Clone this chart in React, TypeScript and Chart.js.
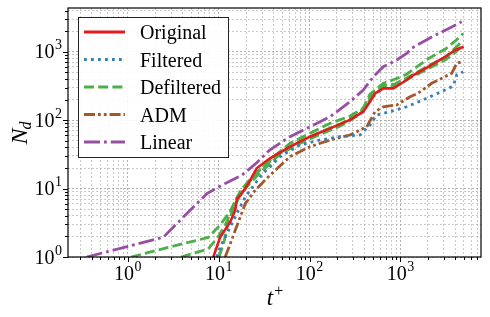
import React, { useEffect, useRef } from 'react';
import { Chart, registerables } from 'chart.js';
Chart.register(...registerables);

// ---- axis ranges & tick labels ----
const xMin = 0.22;
const xMax = 7700;
const yMin = 1;
const yMax = 4365;
const xTickValues = [1, 10, 100, 1000];
const xTickExponents = ['0', '1', '2', '3'];
const yTickValues = [1, 10, 100, 1000];
const yTickExponents = ['0', '1', '2', '3'];

// ---- series ----
const originalX = [8.5, 10.4, 13.4, 15.2, 15.9, 18.0, 21.3, 26.2, 36.7, 61, 101, 168, 279, 390, 462, 525, 648, 834, 1172, 1342, 2047, 3124, 4025, 4963];
const originalY = [0.9, 1.95, 3.25, 4.8, 7.1, 8.5, 11.9, 19.8, 27.7, 41, 57.4, 76, 101, 133, 186, 247, 292, 292, 387, 443, 605, 847, 1061, 1186];

const filteredX = [9.55, 10.4, 11.8, 13.4, 16.5, 19.6, 25.2, 31.1, 38.5, 47.3, 78.5, 130, 216, 359, 462, 548, 767, 1172, 1862, 3090, 3818, 4160, 4900];
const filteredY = [1, 1.4, 1.95, 2.75, 4.8, 7.5, 11.9, 17, 22, 29.3, 43.4, 51.3, 57.4, 60.7, 85, 119, 133, 157, 204, 276, 316, 458, 511];

const defilteredAX = [1.09, 2.92, 7.66, 10.4, 13.4, 16.4, 21.1, 28.6, 40, 61.3, 102, 169, 279, 390, 462, 648, 879, 1172, 2000, 3124, 4025, 4900];
const defilteredAY = [1, 1.40, 1.93, 2.94, 4.71, 7.8, 12.1, 19, 29, 46, 65, 90, 115, 150, 240, 346, 400, 470, 785, 1099, 1439, 1850];
const defilteredBX = [3.86, 7.66, 9.87, 12.1, 14.4, 17.3, 22.2, 30, 47.6, 79, 131, 218, 360, 462, 648, 879, 1352, 2000, 3124, 4025, 4900];
const defilteredBY = [1, 1.31, 1.96, 3.14, 5.57, 9.22, 13.8, 20, 33, 49.7, 67, 88, 128, 215, 320, 340, 458, 620, 830, 1140, 1480];
const defilteredCX = [10.1, 11.5, 12.7, 14.8, 17.3, 22.2, 30, 47.6, 79, 131, 218, 360, 462, 648, 879, 1352, 2000, 3124, 4025, 4900];
const defilteredCY = [1, 1.71, 3.14, 5.38, 8.06, 12.1, 18.1, 32, 46, 62, 82, 122, 200, 300, 320, 430, 561, 760, 980, 1250];

const admX = [11.8, 13.4, 15.2, 17.3, 19.6, 25.2, 33.8, 61, 101, 168, 279, 426, 525, 648, 910, 1274, 1560, 2208, 3090, 3664, 4160, 4724];
const admY = [1, 1.55, 2.45, 3.85, 6.0, 9.4, 14.1, 29.3, 41, 51.3, 60.7, 80.3, 133, 157, 167, 220, 247, 346, 432, 484, 678, 716];

const linearX = [0.353, 2.47, 3.18, 7.47, 11.8, 18.0, 26.4, 36.7, 61, 101, 168, 279, 390, 503, 648, 910, 1172, 1342, 2208, 3664, 4724];
const linearY = [1, 1.95, 2.75, 8.5, 11.9, 15.7, 24, 37, 57.4, 80.3, 112, 186, 276, 432, 605, 758, 950, 1135, 1644, 2302, 2753];

const legendLabels = ['Original', 'Filtered', 'Defiltered', 'ADM', 'Linear'];

// ---- styles ----
const RED = '#e41a1c';
const BLUE = '#377eb8';
const GREEN = '#4daf4a';
const BROWN = '#a65628';
const PURPLE = '#984ea3';
const LW = 2.8;
const DASH_SOLID: number[] = [];
const DASH_DOT = [2.8, 4.2];
const DASH_DASHED = [10, 4.2];
const DASH_ADM = [11, 3, 2.8, 3, 2.8, 3];
const DASH_LINEAR = [16, 4, 2.8, 4];

const legendStyles = [
  { color: RED, dash: DASH_SOLID },
  { color: BLUE, dash: DASH_DOT },
  { color: GREEN, dash: DASH_DASHED },
  { color: BROWN, dash: DASH_ADM },
  { color: PURPLE, dash: DASH_LINEAR },
];

const SERIF = '"Liberation Serif", "DejaVu Serif", serif';

function pts(xs: number[], ys: number[]) {
  return xs.map((x, i) => ({ x, y: ys[i] }));
}

function logTicks(min: number, max: number) {
  const out: { value: number; major: boolean }[] = [];
  const e0 = Math.floor(Math.log10(min));
  const e1 = Math.ceil(Math.log10(max));
  for (let e = e0; e <= e1; e++) {
    for (let k = 1; k <= 9; k++) {
      const v = k * Math.pow(10, e);
      if (v >= min * 0.9999 && v <= max * 1.0001) out.push({ value: v, major: k === 1 });
    }
  }
  return out;
}

function drawPow(ctx: CanvasRenderingContext2D, x: number, baseline: number, exp: string, align: 'center' | 'right') {
  ctx.font = `20px ${SERIF}`;
  const wb = ctx.measureText('10').width;
  ctx.font = `14px ${SERIF}`;
  const we = ctx.measureText(exp).width;
  const total = wb + we + 0.5;
  const start = align === 'center' ? x - total / 2 : x - total;
  ctx.textAlign = 'left';
  ctx.textBaseline = 'alphabetic';
  ctx.fillStyle = '#000';
  ctx.font = `20px ${SERIF}`;
  ctx.fillText('10', start, baseline);
  ctx.font = `14px ${SERIF}`;
  ctx.fillText(exp, start + wb + 0.5, baseline - 9);
}

const decorPlugin = {
  id: 'decor',
  afterDraw(chart: any) {
    const ctx: CanvasRenderingContext2D = chart.ctx;
    const { left, right, top, bottom } = chart.chartArea;
    const xs = chart.scales.x;
    const ys = chart.scales.y;
    ctx.save();
    // tick marks
    ctx.strokeStyle = '#000';
    ctx.lineWidth = 1;
    ctx.setLineDash([]);
    for (const t of logTicks(xMin, xMax)) {
      const px = Math.round(xs.getPixelForValue(t.value)) + 0.5;
      const len = t.major ? 5 : 3;
      ctx.beginPath();
      ctx.moveTo(px, bottom);
      ctx.lineTo(px, bottom + len);
      ctx.stroke();
    }
    for (const t of logTicks(yMin, yMax)) {
      const py = Math.round(ys.getPixelForValue(t.value)) + 0.5;
      const len = t.major ? 5 : 3;
      ctx.beginPath();
      ctx.moveTo(left, py);
      ctx.lineTo(left - len, py);
      ctx.stroke();
    }
    // frame
    ctx.lineWidth = 1.2;
    ctx.strokeRect(left, top, right - left, bottom - top);

    // tick labels
    xTickValues.forEach((v, i) => {
      drawPow(ctx, xs.getPixelForValue(v), bottom + 23, xTickExponents[i], 'center');
    });
    yTickValues.forEach((v, i) => {
      drawPow(ctx, left - 6, ys.getPixelForValue(v) + 6.5, yTickExponents[i], 'right');
    });

    // axis titles
    ctx.fillStyle = '#000';
    ctx.textAlign = 'left';
    ctx.textBaseline = 'alphabetic';
    ctx.font = `italic 23px ${SERIF}`;
    const wt = ctx.measureText('t').width;
    ctx.font = `16px ${SERIF}`;
    const wp = ctx.measureText('+').width;
    const tx = (left + right) / 2 - (wt + wp) / 2;
    ctx.font = `italic 23px ${SERIF}`;
    ctx.fillText('t', tx, 305);
    ctx.font = `16px ${SERIF}`;
    ctx.fillText('+', tx + wt + 1, 296);

    ctx.save();
    ctx.translate(27, (top + bottom) / 2);
    ctx.rotate(-Math.PI / 2);
    ctx.font = `italic 24px ${SERIF}`;
    const wn = ctx.measureText('N').width;
    ctx.font = `italic 16px ${SERIF}`;
    const wd = ctx.measureText('d').width;
    const sx = -(wn + wd) / 2;
    ctx.font = `italic 24px ${SERIF}`;
    ctx.fillText('N', sx, 0);
    ctx.font = `italic 16px ${SERIF}`;
    ctx.fillText('d', sx + wn - 1, 4);
    ctx.restore();

    // legend
    const lx = 78, ly = 17, lw = 150, lh = 140;
    ctx.fillStyle = 'rgba(255,255,255,0.92)';
    ctx.fillRect(lx, ly, lw, lh);
    ctx.strokeStyle = '#222';
    ctx.lineWidth = 1;
    ctx.strokeRect(lx + 0.5, ly + 0.5, lw, lh);
    legendLabels.forEach((label, i) => {
      const cy = 32 + i * 27.5;
      const st = legendStyles[i];
      ctx.strokeStyle = st.color;
      ctx.lineWidth = LW;
      ctx.setLineDash(st.dash);
      ctx.beginPath();
      ctx.moveTo(84, cy);
      ctx.lineTo(125, cy);
      ctx.stroke();
      ctx.setLineDash([]);
      ctx.fillStyle = '#000';
      ctx.font = `20px ${SERIF}`;
      ctx.textAlign = 'left';
      ctx.textBaseline = 'alphabetic';
      ctx.fillText(label, 140, cy + 7);
    });
    ctx.restore();
  },
};

function ds(label: string, xs: number[], ys: number[], color: string, dash: number[], order: number, width = LW) {
  return {
    label,
    data: pts(xs, ys),
    borderColor: color,
    backgroundColor: color,
    borderWidth: width,
    borderDash: dash,
    pointRadius: 0,
    pointHoverRadius: 0,
    tension: 0,
    fill: false,
    order,
  };
}

export default function App() {
  const ref = useRef<HTMLCanvasElement>(null);
  useEffect(() => {
    document.body.style.margin = '0';
    const canvas = ref.current!;
    const gridColor = (c: any) => (c.tick && c.tick.major ? 'rgba(140,140,140,0.85)' : 'rgba(160,160,160,0.7)');
    const chart = new Chart(canvas, {
      type: 'line',
      data: {
        datasets: [
          ds('Original', originalX, originalY, RED, DASH_SOLID, 1, 2.6),
          ds('Filtered', filteredX, filteredY, BLUE, DASH_DOT, 2),
          ds('Defiltered', defilteredAX, defilteredAY, GREEN, DASH_DASHED, 3),
          ds('Defiltered', defilteredBX, defilteredBY, GREEN, DASH_DASHED, 3),
          ds('Defiltered', defilteredCX, defilteredCY, GREEN, DASH_DASHED, 3),
          ds('ADM', admX, admY, BROWN, DASH_ADM, 2),
          ds('Linear', linearX, linearY, PURPLE, DASH_LINEAR, 2),
        ],
      },
      options: {
        animation: false,
        responsive: false,
        devicePixelRatio: 1,
        layout: { padding: { left: 68, right: 9, top: 8, bottom: 60 } },
        plugins: { legend: { display: false }, tooltip: { enabled: false } },
        events: [],
        scales: {
          x: {
            type: 'logarithmic',
            min: xMin,
            max: xMax,
            afterBuildTicks: (scale: any) => {
              scale.ticks = logTicks(xMin, xMax);
            },
            ticks: { display: false },
            grid: { color: gridColor, lineWidth: 0.8, drawTicks: false },
            border: { display: false, dash: [2, 2] },
          },
          y: {
            type: 'logarithmic',
            min: yMin,
            max: yMax,
            afterBuildTicks: (scale: any) => {
              scale.ticks = logTicks(yMin, yMax);
            },
            ticks: { display: false },
            grid: { color: gridColor, lineWidth: 0.8, drawTicks: false },
            border: { display: false, dash: [2, 2] },
          },
        },
      },
      plugins: [decorPlugin],
    } as any);
    return () => chart.destroy();
  }, []);
  return (
    <canvas
      ref={ref}
      width={490}
      height={317}
      style={{ display: 'block', position: 'fixed', left: 0, top: 0, width: 490, height: 317 }}
    />
  );
}
